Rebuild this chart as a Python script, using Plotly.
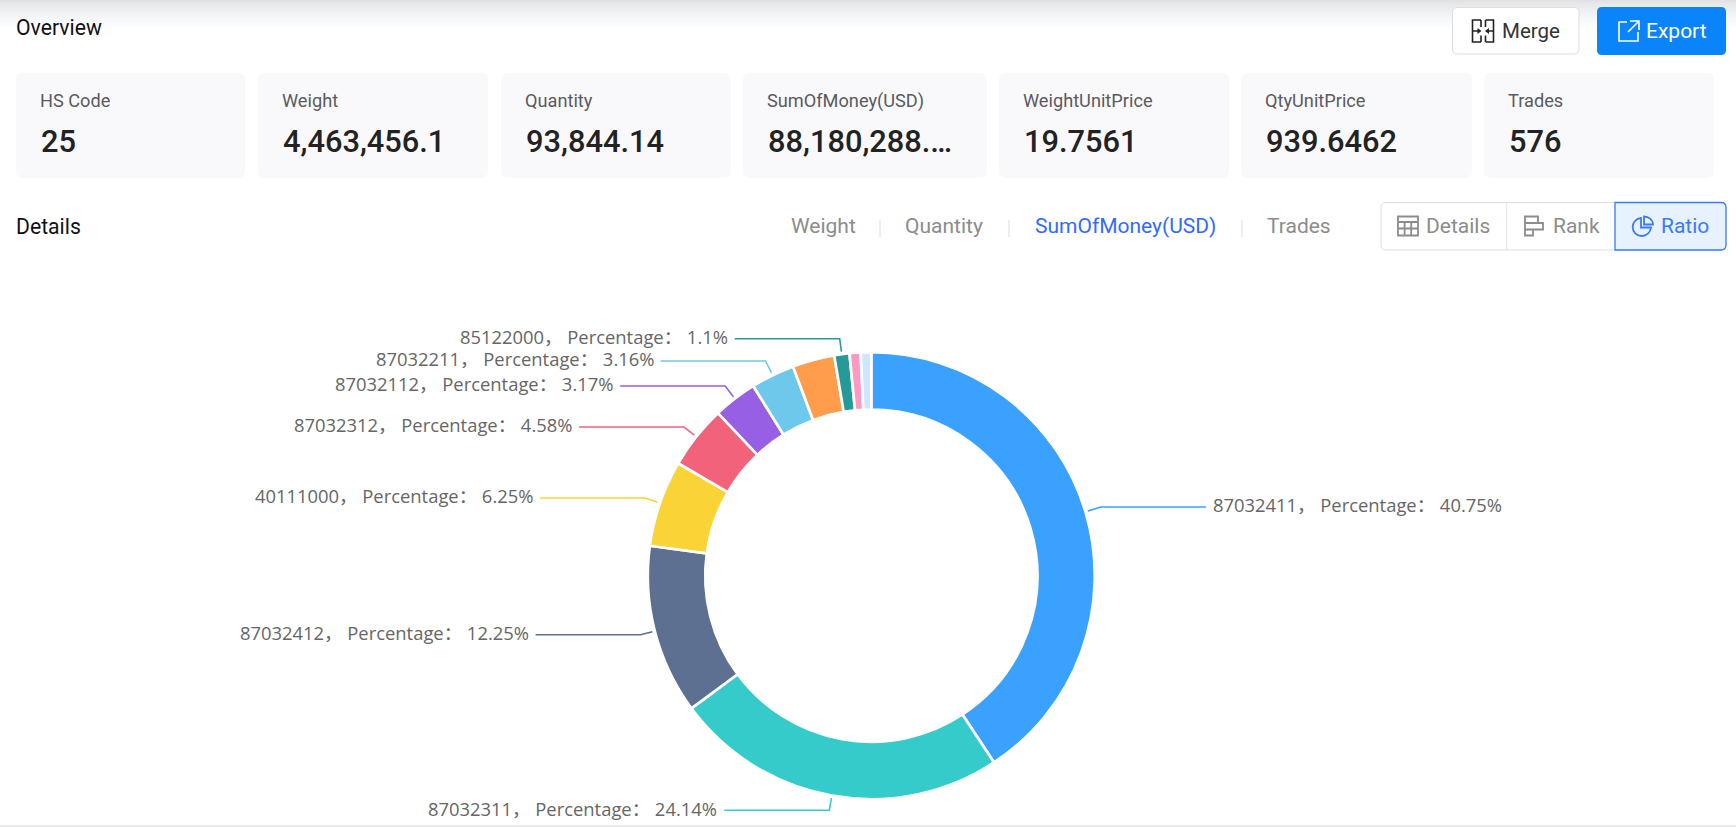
import math
import plotly.graph_objects as go

# ---------- data ----------
categories = ["87032411", "87032311", "87032412", "40111000", "87032312", "87032112",
              "87032211", "(unlabelled a)", "85122000", "(unlabelled b)", "(unlabelled c)"]
percentages = [40.75, 24.14, 12.25, 6.25, 4.58, 3.17, 3.16, 3.04, 1.1, 0.8, 0.76]
labelled = [True, True, True, True, True, True, True, False, True, False, False]
slice_colors = ["#3AA1FF", "#36CBCB", "#5D7092", "#FAD337", "#F2637B", "#975FE4",
                "#6DC8EC", "#FF9D4D", "#269A99", "#FF99C3", "#CFE6FF"]

card_titles = ["HS Code", "Weight", "Quantity", "SumOfMoney(USD)", "WeightUnitPrice", "QtyUnitPrice", "Trades"]
card_values = ["25", "4,463,456.1", "93,844.14", "88,180,288.…", "19.7561", "939.6462", "576"]
tab_names = ["Weight", "Quantity", "SumOfMoney(USD)", "Trades"]

# ---------- layout constants (px) ----------
W, H = 1736, 827
CX, CY, R = 871.3, 575.7, 223.5
HOLE = 0.743
leader_y = [507, 810.3, 634.7, 498, 427, 386, 361, None, 338.7, None, None]
R_START = 226
H_LEN = 105
TXT_GAP = 7

card_x = [(16, 245), (258, 488), (501, 731), (743, 987), (999, 1229), (1241, 1472), (1484, 1714)]
tab_x = [790.5, 905, 1035, 1267]
sep_x = [880, 1009, 1242]

UI = "Roboto, 'Noto Sans', sans-serif"
NUM = "Roboto, sans-serif"
LBL = "'Open Sans', 'Noto Sans CJK SC', sans-serif"
TITLE_SIZE = 21.2
CARD_SIZE = 18.2
TAB_SIZE = 21
LABEL_SIZE = 18.4


def X(p):
    return p / W


def Y(p):
    return 1 - p / H


def path(s):
    out, is_x = [], True
    for tok in s.split():
        try:
            v = float(tok)
        except ValueError:
            out.append(tok)
            is_x = True
            continue
        out.append(f"{X(v) if is_x else Y(v):.6f}")
        is_x = not is_x
    return " ".join(out)


shapes, anns = [], []


def add_path(s, fill=None, line=None, lw=1.0, layer="above"):
    d = dict(type="path", xref="paper", yref="paper", path=path(s), layer=layer,
             line=dict(color=line or "rgba(0,0,0,0)", width=lw if line else 0))
    if fill:
        d["fillcolor"] = fill
    shapes.append(d)


def rrect(x0, y0, x1, y1, r):
    return (f"M {x0+r} {y0} L {x1-r} {y0} Q {x1} {y0} {x1} {y0+r} L {x1} {y1-r} Q {x1} {y1} {x1-r} {y1} "
            f"L {x0+r} {y1} Q {x0} {y1} {x0} {y1-r} L {x0} {y0+r} Q {x0} {y0} {x0+r} {y0} Z")


def text(t, x, y, size, color, font=UI, anchor="left", weight=None):
    f = dict(family=font, size=size, color=color)
    if weight:
        f["weight"] = weight
    anns.append(dict(text=t, x=X(x), y=Y(y), xref="paper", yref="paper", showarrow=False,
                     xanchor=anchor, yanchor="middle", font=f, borderpad=0, borderwidth=0))


# top shadow gradient
for i in range(30):
    t = i / 30
    c = round(224 + (255 - 224) * min(1, t ** 0.7))
    add_path(f"M 0 {i} L {W} {i} L {W} {i+1} L 0 {i+1} Z", fill=f"rgb({c},{min(c+1,255)},{min(c+2,255)})", layer="below")
# bottom strip
add_path(f"M 0 825 L {W} 825 L {W} 827 L 0 827 Z", fill="#ECECEE", layer="below")

text("Overview", 16, 27.5, TITLE_SIZE, "#111111")
text("Details", 16, 227, TITLE_SIZE, "#111111")

# cards
for (x0, x1), t, v in zip(card_x, card_titles, card_values):
    add_path(rrect(x0, 73, x1, 178, 7), fill="#F9F9FB", layer="below")
    text(t, x0 + 24.3, 101, CARD_SIZE, "#5A5A5F")
    text(v, x0 + 24.5, 141, 30.8, "#222222", font=NUM, weight=500)

# merge button
add_path(rrect(1452.5, 7.5, 1579, 54, 5), fill="#FFFFFF", line="#DCDEE2", lw=1)
add_path("M 1481 20 L 1472.5 20 L 1472.5 42 L 1481 42 M 1481 20 L 1481 27 M 1481 35.5 L 1481 42 M 1472.5 31 L 1480 31 "
         "M 1485.5 20 L 1493.5 20 L 1493.5 42 L 1485.5 42 M 1485.5 20 L 1485.5 27 M 1485.5 35.5 L 1485.5 42 M 1493.5 31 L 1486.5 31",
         line="#222222", lw=1.6)
add_path("M 1477.5 28 L 1481.5 31 L 1477.5 34 Z M 1489 28 L 1485 31 L 1489 34 Z", fill="#222222")
text("Merge", 1502, 31, 20.5, "#333333")

# export button
add_path(rrect(1597, 7, 1726, 55, 5), fill="#0A84FB")
add_path("M 1627 22 L 1619 22 L 1619 41 L 1638 41 L 1638 32 M 1630 21 L 1639 21 L 1639 30 M 1639 21 L 1628 32",
         line="#FFFFFF", lw=1.6)
text("Export", 1646, 31, 21, "#FFFFFF")

# tabs
for name, x in zip(tab_names, tab_x):
    text(name, x, 226, TAB_SIZE, "#2F6BFF" if name == "SumOfMoney(USD)" else "#8C8C8C")
for x in sep_x:
    add_path(f"M {x} 220 L {x} 237", line="#DDDDDD", lw=1)

# segmented control
add_path(rrect(1381, 202.5, 1726, 250, 5), fill="#FFFFFF", line="#DCDEE2", lw=1)
add_path("M 1506.7 203 L 1506.7 250", line="#E2E3E6", lw=1)
add_path("M 1615 202.5 L 1721 202.5 Q 1726 202.5 1726 207.5 L 1726 245 Q 1726 250 1721 250 L 1615 250 Z",
         fill="#E8F1FE", line="#3A7BFA", lw=1.3)

GR = "#8C8C8C"
# table icon
add_path("M 1398 216.5 L 1418 216.5 L 1418 235.5 L 1398 235.5 Z M 1398 222 L 1418 222 M 1398 228.5 L 1418 228.5 "
         "M 1404.6 222 L 1404.6 235.5 M 1411.2 222 L 1411.2 235.5", line=GR, lw=1.8)
text("Details", 1426, 226, TAB_SIZE, GR)
# rank icon
add_path("M 1525 216.5 L 1538 216.5 L 1538 223 L 1525 223 Z M 1525 223 L 1543 223 L 1543 229.5 L 1525 229.5 Z "
         "M 1525 229.5 L 1533 229.5 L 1533 235.5 L 1525 235.5 Z", line=GR, lw=1.8)
text("Rank", 1552.5, 226, TAB_SIZE, GR)
# pie icon
BL = "#3A7BFA"
add_path("M 1641 218 C 1636 218.5 1632.7 222.5 1632.7 227 C 1632.7 232 1636.5 236 1641.7 236 "
         "C 1646.5 236 1650.5 232.5 1651 227.5 L 1641 227.5 Z", line=BL, lw=1.8)
add_path("M 1644 216.5 C 1649 216.5 1653 220 1653 224.5 L 1644 224.5 Z", line=BL, lw=1.8)
text("Ratio", 1660.5, 226, TAB_SIZE, BL)

# leader lines and labels, derived from the slice values
total = sum(percentages)
cum = 0.0
for name, pct, show, col, ly in zip(categories, percentages, labelled, slice_colors, leader_y):
    mid = (cum + pct / 2) / total * 2 * math.pi
    cum += pct
    if not show:
        continue
    dx, dy = math.sin(mid), -math.cos(mid)
    sx, sy = CX + R_START * dx, CY + R_START * dy
    ex = sx + (ly - sy) / dy * dx
    side = 1 if dx >= 0 else -1
    hx = ex + side * H_LEN
    add_path(f"M {sx:.2f} {sy:.2f} L {ex:.2f} {ly} L {hx:.2f} {ly}", line=col, lw=1.6)
    text(f"{name}， Percentage： {pct:g}%", hx + side * TXT_GAP, ly - 2.3, LABEL_SIZE, "#666666",
         font=LBL, anchor="left" if side > 0 else "right")

fig = go.Figure(go.Pie(
    labels=categories, values=percentages, sort=False, direction="clockwise", rotation=0,
    hole=HOLE, textinfo="none", showlegend=False,
    marker=dict(colors=slice_colors, line=dict(color="#FFFFFF", width=2.7)),
    domain=dict(x=[X(CX - R), X(CX + R)], y=[Y(CY + R), Y(CY - R)]),
))
fig.update_layout(width=W, height=H, margin=dict(l=0, r=0, t=0, b=0), paper_bgcolor="#FFFFFF",
                  plot_bgcolor="#FFFFFF", shapes=shapes, annotations=anns, showlegend=False)
fig.write_html("out.html", config={"displayModeBar": False},
               post_script="document.body.style.margin='0';document.body.style.overflow='hidden';")
